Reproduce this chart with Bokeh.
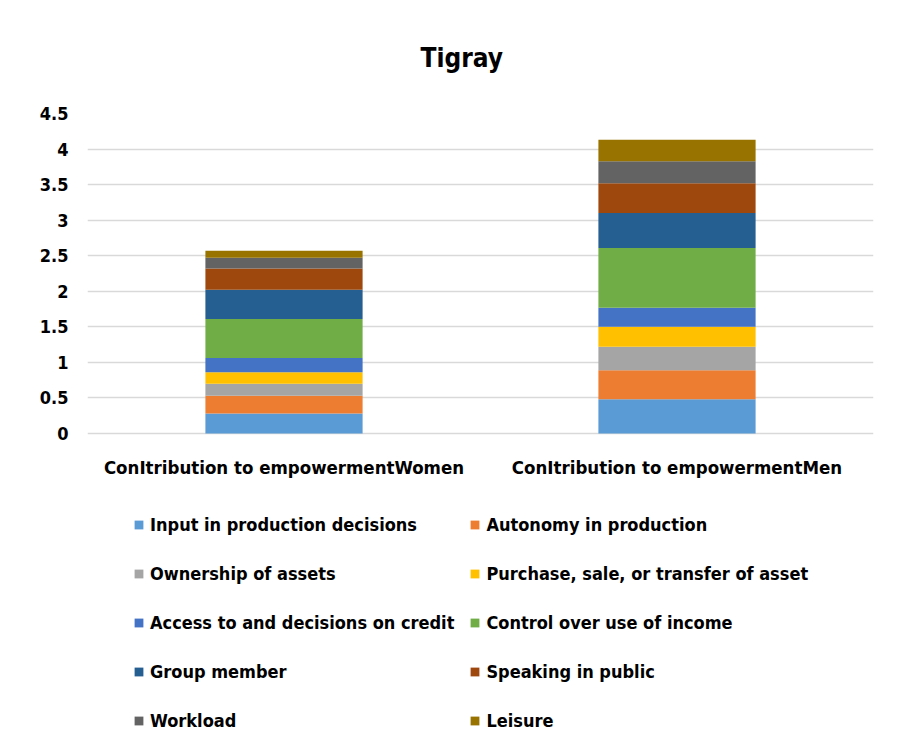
from bokeh.plotting import figure
from bokeh.models import FixedTicker, Legend, LegendItem
from bokeh.core.properties import value
from bokeh.embed import file_html
from bokeh.resources import INLINE

categories = ["ConItribution to empowermentWomen", "ConItribution to empowermentMen"]
indicators = ["Input in production decisions", "Autonomy in production",
              "Ownership of assets", "Purchase, sale, or transfer of asset",
              "Access to and decisions on credit", "Control over use of income",
              "Group member", "Speaking in public", "Workload", "Leisure"]
women = [0.28, 0.25, 0.17, 0.16, 0.20, 0.55, 0.41, 0.30, 0.15, 0.10]
men = [0.48, 0.41, 0.33, 0.28, 0.27, 0.84, 0.49, 0.42, 0.31, 0.30]
colors = ["#5b9bd5", "#ed7d31", "#a5a5a5", "#ffc000", "#4472c4",
          "#70ad47", "#255e91", "#9e480e", "#636363", "#997300"]
y_ticks = [0, 0.5, 1, 1.5, 2, 2.5, 3, 3.5, 4, 4.5]
y_tick_labels = ["0", "0.5", "1", "1.5", "2", "2.5", "3", "3.5", "4", "4.5"]

FONT = "DejaVu Sans Condensed, Liberation Sans, sans-serif"

# layout (pixels)
W, H = 900, 746
TOP, LEFT, RIGHT = 113, 87, 27
frame_h = H - TOP
y_max = 4.5
px_per_unit = 320 / y_max          # 0..4.5 spans 320 px
y_min = y_max - frame_h / px_per_unit  # room below zero for labels + legend

data = {"cat": categories, "zero": [0] * len(categories)}
keys = []
for i, name in enumerate(indicators):
    k = "s%d" % i
    keys.append(k)
    data[k] = [women[i], men[i]]

p = figure(x_range=categories, y_range=(y_min, y_max), width=W, height=H,
           output_backend="svg", toolbar_location=None, x_axis_location=None,
           min_border_left=LEFT, min_border_right=RIGHT,
           min_border_top=TOP, min_border_bottom=0)

rs = p.vbar_stack(keys, x="cat", width=0.4, color=colors, line_color=None, source=data)

# category labels under the zero line
p.text(x="cat", y="zero", text="cat", source=data, y_offset=34,
       text_align="center", text_baseline="middle",
       text_font=value(FONT), text_font_style="bold",
       text_font_size="18.5px", text_color="#000000")

p.title.text = "Tigray"
p.title.text_font = FONT
p.title.text_font_size = "26px"
p.title.text_font_style = "bold"
p.title.text_color = "#000000"
p.title.align = "left"
p.title.offset = 333
p.title.standoff = 81

p.outline_line_color = None
p.background_fill_color = "white"
p.border_fill_color = "white"
p.xgrid.grid_line_color = None
p.ygrid.grid_line_color = "#d9d9d9"
p.ygrid.grid_line_width = 1.5
p.ygrid.ticker = FixedTicker(ticks=y_ticks)

p.yaxis.ticker = FixedTicker(ticks=y_ticks)
p.yaxis.major_label_overrides = {t: l for t, l in zip(y_ticks, y_tick_labels)}
p.yaxis.axis_line_color = None
p.yaxis.major_tick_line_color = None
p.yaxis.minor_tick_line_color = None
p.yaxis.major_tick_out = 0
p.yaxis.major_tick_in = 0
p.yaxis.major_label_text_font = FONT
p.yaxis.major_label_text_font_style = "bold"
p.yaxis.major_label_text_color = "#000000"
p.yaxis.major_label_text_font_size = "18px"
p.yaxis.major_label_standoff = 19

# two-column legend, filled row by row (column-major fill, so reorder)
order = [0, 2, 4, 6, 8, 1, 3, 5, 7, 9]
items = [LegendItem(label=indicators[i], renderers=[rs[i]]) for i in order]
legend = Legend(items=items, location=(46, 9), orientation="vertical", ncols=2,
                padding=0, margin=0, spacing=15, glyph_width=11, glyph_height=11,
                label_height=34, label_width=280, label_standoff=6,
                border_line_color=None, background_fill_alpha=0,
                label_text_font=FONT, label_text_font_style="bold",
                label_text_font_size="18px", label_text_color="#000000")
p.add_layout(legend, "center")

open("out.html", "w").write(file_html(p, INLINE))
